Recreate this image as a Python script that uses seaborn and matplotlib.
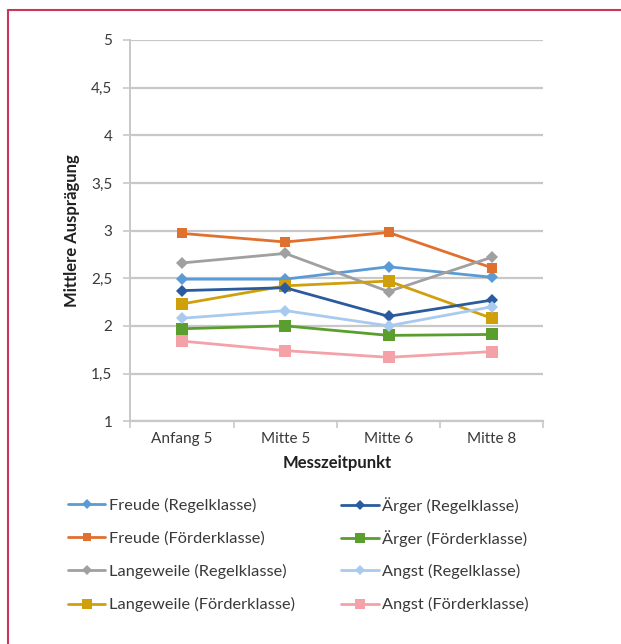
import matplotlib
matplotlib.use("Agg")
import matplotlib.pyplot as plt
from matplotlib.lines import Line2D
import seaborn as sns
import pandas as pd

# Measurement points (x categories)
zeitpunkte = ["Anfang 5", "Mitte 5", "Mitte 6", "Mitte 8"]

# Mean scores per emotion and class type
freude_regel = [2.49, 2.49, 2.62, 2.51]
freude_foerder = [2.97, 2.88, 2.98, 2.61]
aerger_regel = [2.37, 2.40, 2.10, 2.27]
aerger_foerder = [1.97, 2.00, 1.90, 1.91]
langeweile_regel = [2.66, 2.76, 2.36, 2.72]
langeweile_foerder = [2.23, 2.42, 2.47, 2.08]
angst_regel = [2.08, 2.16, 2.00, 2.20]
angst_foerder = [1.84, 1.74, 1.67, 1.73]

y_ticks = [1, 1.5, 2, 2.5, 3, 3.5, 4, 4.5, 5]
y_tick_labels = ["1", "1,5", "2", "2,5", "3", "3,5", "4", "4,5", "5"]

series = [
    ("Freude (Regelklasse)", freude_regel, "#5b9bd5", "D", 6),
    ("Freude (Förderklasse)", freude_foerder, "#e0702e", "s", 7),
    ("Langeweile (Regelklasse)", langeweile_regel, "#a0a0a0", "D", 6),
    ("Langeweile (Förderklasse)", langeweile_foerder, "#d0a00c", "s", 9),
    ("Ärger (Regelklasse)", aerger_regel, "#2a5b9e", "D", 6),
    ("Ärger (Förderklasse)", aerger_foerder, "#5a9e2e", "s", 9),
    ("Angst (Regelklasse)", angst_regel, "#a9caef", "D", 6),
    ("Angst (Förderklasse)", angst_foerder, "#f4a1a8", "s", 9),
]

rows = []
for name, vals, *_ in series:
    for zp, v in zip(zeitpunkte, vals):
        rows.append({"Messzeitpunkt": zp, "Wert": v, "Reihe": name})
df = pd.DataFrame(rows)

sns.set_theme(style="white")
plt.rcParams["font.family"] = ["Lato", "DejaVu Sans"]

fig = plt.figure(figsize=(6.21, 6.44), dpi=100)
ax = fig.add_axes([0.210, 0.346, 0.665, 0.592])

handles = []
for name, vals, color, marker, ms in series:
    sub = df[df["Reihe"] == name]
    sns.lineplot(data=sub, x="Messzeitpunkt", y="Wert", ax=ax, color=color,
                 marker=marker, markersize=ms, markeredgewidth=0,
                 linewidth=2.0, sort=False, legend=False)
    handles.append(Line2D([0], [0], color=color, marker=marker,
                          markersize=ms * 0.8, markeredgewidth=0,
                          linewidth=2.0, label=name))

ax.set_xlim(-0.5, 3.5)
ax.set_ylim(1, 5)
ax.set_yticks(y_ticks)
ax.set_yticklabels(y_tick_labels)
ax.yaxis.grid(True, color="#c8c8c8", linewidth=1.6)
ax.set_axisbelow(True)
for s in ["top", "right"]:
    ax.spines[s].set_visible(False)
ax.spines["left"].set_color("#c8c8c8")
ax.spines["left"].set_linewidth(1.4)
ax.spines["bottom"].set_color("#c8c8c8")
ax.spines["bottom"].set_linewidth(1.6)

# category boundary ticks on x axis
ax.set_xticks([-0.5, 0.5, 1.5, 2.5, 3.5], minor=True)
ax.tick_params(axis="x", which="minor", length=5, color="#c8c8c8", width=1.2, bottom=True)
ax.tick_params(axis="x", which="major", length=0, labelsize=11, colors="#3a3a3a", pad=8)
ax.tick_params(axis="y", which="major", length=5, color="#c8c8c8", width=1.2,
               labelsize=11, colors="#3a3a3a", left=True, pad=8)

ax.set_xlabel("Messzeitpunkt", fontsize=12, fontweight="bold", color="#202020", labelpad=6)
ax.set_ylabel("Mittlere Ausprägung", fontsize=12, fontweight="bold", color="#202020", labelpad=8)

# Legend: two columns, four rows, each entry anchored on a fixed grid
col_x = [0.109, 0.549]
row_y = [0.215, 0.164, 0.113, 0.061]
for i, h in enumerate(handles):
    col, row = divmod(i, 4)
    leg = fig.legend(handles=[h], loc="center left",
                     bbox_to_anchor=(col_x[col], row_y[row]),
                     frameon=False, fontsize=11.8, handlelength=2.3,
                     handletextpad=0.2, borderpad=0, borderaxespad=0,
                     labelcolor="#3a3a3a")

# Frame lines along top and left edge
fig.add_artist(Line2D([0.013, 1.0], [0.984, 0.984], color="#c8375a", linewidth=1.5,
                      transform=fig.transFigure))
fig.add_artist(Line2D([0.013, 0.013], [0.0, 0.984], color="#c8375a", linewidth=1.5,
                      transform=fig.transFigure))

fig.savefig("out.png", dpi=100)
